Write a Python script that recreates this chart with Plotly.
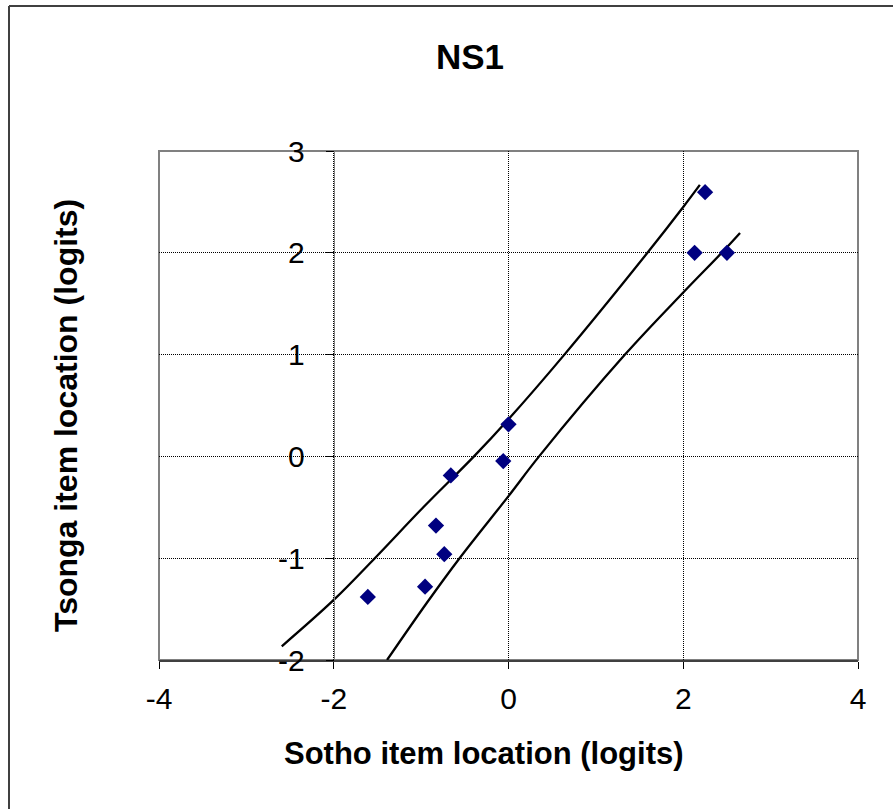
import plotly.graph_objects as go

# Scatter data (Sotho vs Tsonga item locations)
sotho = [2.25, 2.13, 2.50, 0.00, -0.06, -0.66, -0.83, -0.735, -0.955, -1.61]
tsonga = [2.595, 2.00, 2.00, 0.315, -0.046, -0.187, -0.68, -0.96, -1.28, -1.38]

# Upper control line
upper_x = [-2.595, -2.0, -1.53, -0.975, -0.395, 0.0, 0.63, 1.59, 2.0, 2.19]
upper_y = [-1.865, -1.41, -1.00, -0.50, 0.00, 0.365, 0.99, 2.00, 2.45, 2.667]

# Lower control line
lower_x = [-1.39, -0.936, -0.56, 0.0, 0.35, 1.333, 2.0, 2.44, 2.65]
lower_y = [-2.00, -1.44, -1.00, -0.39, 0.00, 1.00, 1.61, 2.00, 2.195]

x_ticks = [-4, -2, 0, 2, 4]
y_ticks = [-2, -1, 0, 1, 2, 3]

FONT = "Liberation Sans, Arial, sans-serif"
W, H = 893, 809
L, R, T, B = 159, 858, 151, 660  # plot area in pixels


def px(xp):
    return (xp - L) / (R - L)


def py(yp):
    return (B - yp) / (B - T)


fig = go.Figure()
fig.add_trace(go.Scatter(x=upper_x, y=upper_y, mode="lines", line=dict(color="black", width=2.3, shape="spline"),
                         hoverinfo="skip", showlegend=False))
fig.add_trace(go.Scatter(x=lower_x, y=lower_y, mode="lines", line=dict(color="black", width=2.3, shape="spline"),
                         hoverinfo="skip", showlegend=False))
fig.add_trace(go.Scatter(x=sotho, y=tsonga, mode="markers",
                         marker=dict(symbol="diamond", size=12.5, color="#000080", line=dict(width=0)),
                         showlegend=False))

fig.update_layout(
    width=W, height=H,
    margin=dict(l=L, r=W - R, t=T, b=H - B, pad=0),
    paper_bgcolor="white", plot_bgcolor="white",
    font=dict(family=FONT, color="black", size=30),
    showlegend=False,
    title=dict(text="<b>NS1</b>", x=470 / W, y=1 - 57 / H, xanchor="center", yanchor="middle",
               xref="container", yref="container",
               font=dict(family=FONT, size=35, color="black")),
)

fig.update_xaxes(
    range=[-4, 4], tickvals=x_ticks, ticktext=[str(v) for v in x_ticks],
    showgrid=True, gridcolor="black", griddash="1px,1px", gridwidth=1,
    zeroline=False, showline=True, linecolor="#404040", linewidth=2,
    ticks="outside", ticklen=7, tickcolor="black", tickwidth=1,
    ticklabelstandoff=4,
    tickfont=dict(family=FONT, size=30, color="black"),
    fixedrange=True,
)
fig.update_yaxes(
    range=[-2, 3], tickvals=y_ticks, ticktext=[str(v) for v in y_ticks],
    anchor="free", position=0.25, side="left",
    showgrid=True, gridcolor="black", griddash="1px,1px", gridwidth=1,
    zeroline=False, showline=True, linecolor="#808080", linewidth=1,
    ticks="outside", ticklen=8, tickcolor="black", tickwidth=1,
    ticklabelstandoff=15,
    tickfont=dict(family=FONT, size=30, color="black"),
    fixedrange=True,
)

# plot-area border
fig.add_shape(type="rect", xref="paper", yref="paper", x0=0, x1=1, y0=0, y1=1,
              line=dict(color="#808080", width=2), layer="below")
# chart-area border (left and top edges visible)
fig.add_shape(type="line", xref="paper", yref="paper", x0=px(9), x1=px(9), y0=py(6), y1=py(H + 5),
              line=dict(color="#404040", width=2))
fig.add_shape(type="line", xref="paper", yref="paper", x0=px(9), x1=px(W + 5), y0=py(6), y1=py(6),
              line=dict(color="#404040", width=2))

# axis titles
fig.add_annotation(text="<b>Sotho item location (logits)</b>", x=px(484), y=py(753),
                   xref="paper", yref="paper", xanchor="center", yanchor="middle", showarrow=False,
                   font=dict(family=FONT, size=31, color="black"))
fig.add_annotation(text="<b>Tsonga item location (logits)</b>", x=px(66), y=py(416),
                   xref="paper", yref="paper", xanchor="center", yanchor="middle", showarrow=False,
                   textangle=-90, font=dict(family=FONT, size=32, color="black"))

fig.write_html("out.html")
